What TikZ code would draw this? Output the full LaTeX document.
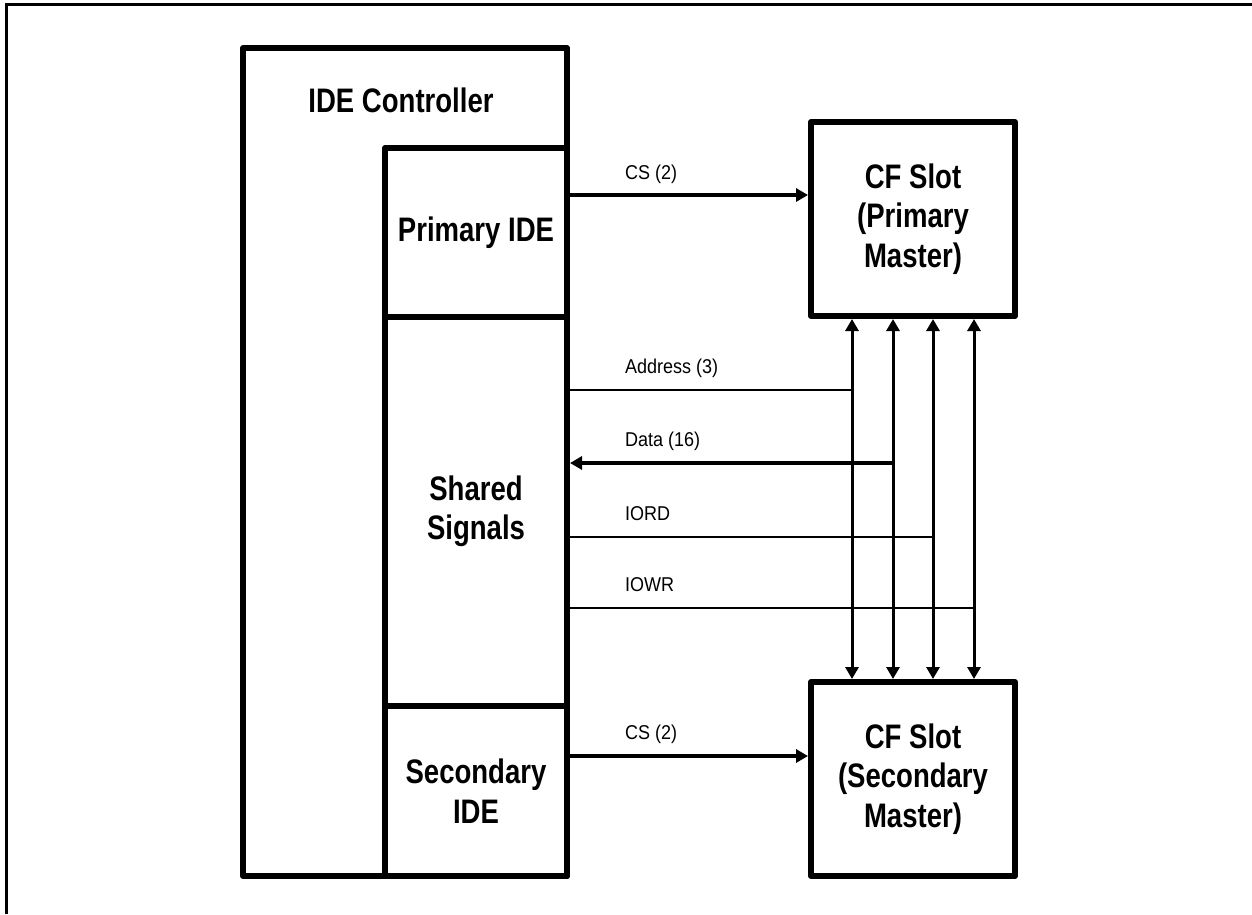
\documentclass[tikz,border=0pt]{standalone}
\usepackage{fontspec}
\setmainfont{Liberation Sans}
\newfontfamily\bigf{Liberation Sans}[FakeStretch=0.81]
\newfontfamily\smallf{Liberation Sans}[FakeStretch=0.9]
\usetikzlibrary{arrows.meta}
\tikzset{
  blk/.style={draw, line width=6pt, line join=round, fill=white, rectangle, inner sep=0pt,
    align=center, font=\bigf\bfseries\fontsize{34}{39.5}\selectfont},
  title/.style={inner sep=0pt, font=\bigf\bfseries\fontsize{34}{39.5}\selectfont},
  lbl/.style={inner sep=0pt, anchor=base west, font=\smallf\fontsize{20}{24}\selectfont},
  thick sig/.style={line width=3.5pt},
  thin sig/.style={line width=2pt},
  bus/.style={line width=3pt},
  sigtip/.tip={Triangle[length=12pt,width=13pt]}
}
\begin{document}
\begin{tikzpicture}[x=1pt,y=-1pt]
\useasboundingbox (0,0) rectangle (1252,914);
% page frame
\draw[line width=3pt] (1252,4.5) -- (6.5,4.5) -- (6.5,914);
% IDE controller
\node[blk, minimum width=324pt, minimum height=828pt] (ctrl) at (405,462) {};
\node[title] (ctrlt) at (401,100) {IDE Controller};
\node[blk, minimum width=182pt, minimum height=169pt] (pri) at (476,232.5) {Primary IDE};
\node[blk, minimum width=182pt, minimum height=389pt] (sh) at (476,511.5) {Shared\\Signals};
\node[blk, minimum width=182pt, minimum height=170pt] (sec) at (476,791) {Secondary\\IDE};
% CF slots
\node[blk, minimum width=204pt, minimum height=194pt] (cfp) at (913,219) {CF Slot\\(Primary\\Master)};
\node[blk, minimum width=204pt, minimum height=194pt] (cfs) at (913,779) {CF Slot\\(Secondary\\Master)};
% bus tap points
\coordinate (a1) at (852,390);
\coordinate (d1) at (893,463);
\coordinate (r1) at (933,537);
\coordinate (w1) at (974,608);
% CS lines
\draw[thick sig, -{sigtip}] (pri.east |- 0,195) -- (cfp.west |- 0,195);
\draw[thick sig, -{sigtip}] (sec.east |- 0,756) -- (cfs.west |- 0,756);
% shared lines
\draw[thin sig] (sh.east |- a1) -- (a1);
\draw[thick sig, -{sigtip}] (d1) -- (sh.east |- d1);
\draw[thin sig] (sh.east |- r1) -- (r1);
\draw[thin sig] (sh.east |- w1) -- (w1);
% vertical buses
\foreach \c in {a1,d1,r1,w1}{
  \draw[bus, {sigtip}-{sigtip}] (cfp.south -| \c) -- (cfs.north -| \c);
}
% labels
\node[lbl] (tcs1) at (625,179) {CS (2)};
\node[lbl] (tadr) at (625,373.5) {Address (3)};
\node[lbl] (tdat) at (625,446.5) {Data (16)};
\node[lbl] (tiord) at (625,520.5) {IORD};
\node[lbl] (tiowr) at (625,591.5) {IOWR};
\node[lbl] (tcs2) at (625,739.5) {CS (2)};
\end{tikzpicture}
\end{document}
